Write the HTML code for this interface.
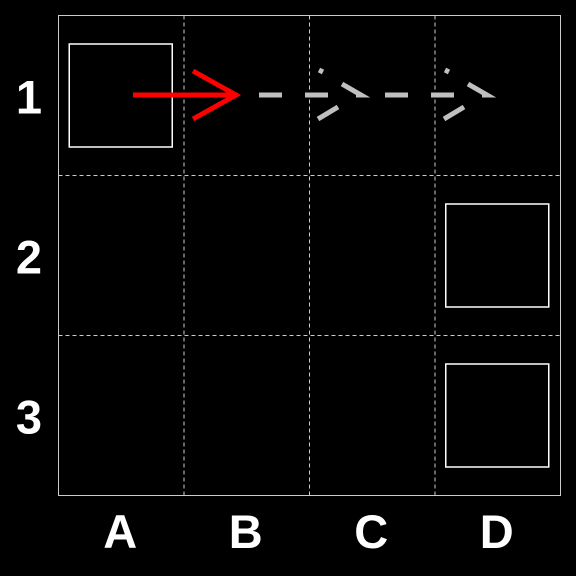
<!DOCTYPE html>
<html><head><meta charset="utf-8"><style>
html,body{margin:0;padding:0;background:#000;width:576px;height:576px;overflow:hidden}
svg{display:block}
text{font-family:"Liberation Sans",sans-serif;font-weight:bold;fill:#fff;font-size:47px}
</style></head><body>
<svg id="chart" width="576" height="576">
<g id="grid"></g>
<rect x="58.5" y="15.5" width="502" height="480" fill="none" stroke="#ccc" stroke-width="1"/>
<g id="boxes"></g>
<g id="labels"></g>
<g stroke="#f00" stroke-width="5" fill="none">
<line x1="133" y1="95" x2="235" y2="95"/>
<polyline points="193,71 236,95 193,119"/>
</g>
<g stroke="#c0c0c0" stroke-width="5" fill="none">
<line x1="259" y1="95" x2="328" y2="95" stroke-dasharray="23,23"/>
<line x1="319" y1="70" x2="323" y2="72"/>
<polyline points="342,84 361,95 356,95"/>
<line x1="338" y1="107" x2="318" y2="119"/>
</g>
<g stroke="#c0c0c0" stroke-width="5" fill="none">
<line x1="385" y1="95" x2="454" y2="95" stroke-dasharray="23,23"/>
<line x1="445" y1="70" x2="449" y2="72"/>
<polyline points="468,84 487,95 482,95"/>
<line x1="464" y1="107" x2="444" y2="119"/>
</g>
</svg>
<script>
const cols=['A','B','C','D'];
const rows=['1','2','3'];
const boxCols=['A','D','D'];
const boxRows=['1','2','3'];
const X0=58.5,Y0=15.5,CW=502/4,RH=480/3;
const ns='http://www.w3.org/2000/svg';
const g=document.getElementById('grid'),b=document.getElementById('boxes'),l=document.getElementById('labels');
function mk(tag,attrs,parent){const e=document.createElementNS(ns,tag);for(const k in attrs)e.setAttribute(k,attrs[k]);parent.appendChild(e);return e;}
for(let i=1;i<cols.length;i++){const x=X0+i*CW;
const e=mk('line',{x1:x,y1:Y0,x2:x,y2:Y0+480,stroke:'#ccc','stroke-width':1,'stroke-dasharray':'4,3'},g);

}
for(let i=1;i<rows.length;i++){const y=Y0+i*RH;
const e=mk('line',{x1:X0,y1:y,x2:X0+502,y2:y,stroke:'#ccc','stroke-width':1,'stroke-dasharray':'4,3'},g);

}
cols.forEach((c,i)=>{const t=mk('text',{x:X0+(i+.5)*CW-1,y:548,'text-anchor':'middle'},l);t.textContent=c;

});
rows.forEach((r,i)=>{const t=mk('text',{x:29,y:Y0+(i+.5)*RH+18,'text-anchor':'middle'},l);t.textContent=r;

});
boxCols.forEach((c,k)=>{const ci=cols.indexOf(c),ri=rows.indexOf(boxRows[k]);
const cx=X0+(ci+.5)*CW,cy=Y0+(ri+.5)*RH;
const e=mk('rect',{x:cx-52,y:cy-51.5,width:103,height:103,fill:'none',stroke:'#fff','stroke-width':1.5},b);

});
</script>
</body></html>
